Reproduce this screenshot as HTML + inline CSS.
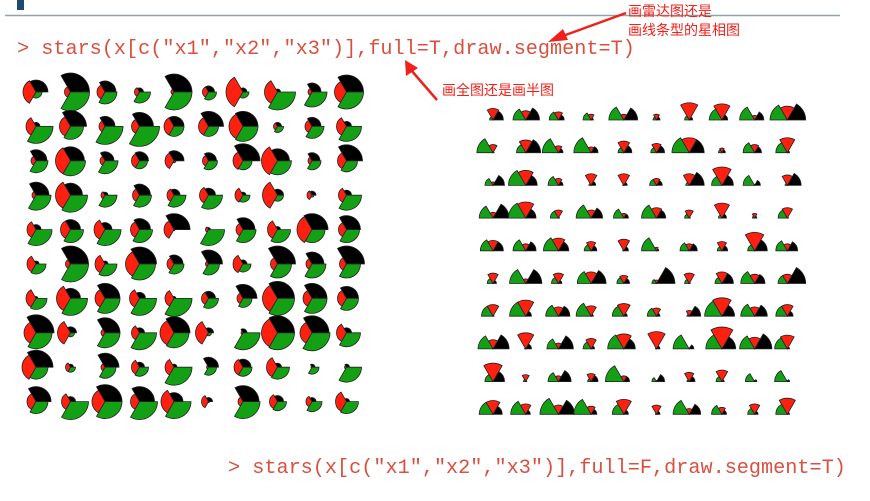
<!DOCTYPE html>
<html><head><meta charset="utf-8"><style>
html,body{margin:0;padding:0;background:#fff;width:870px;height:501px;overflow:hidden}
svg{display:block}
.cmd{font-family:"Liberation Mono",monospace;font-size:20.2px;fill:#d9503f}
.ann{font-family:"Liberation Sans","Noto Sans CJK SC",sans-serif;font-size:14px;fill:#f0201a}
</style></head><body>
<svg id="svg" width="870" height="501">
<rect x="17" y="0" width="7" height="10" fill="#1e4a6e"/>
<line x1="5" y1="15.5" x2="840" y2="15.5" stroke="#8fa3a8" stroke-width="1.5"/>
<text class="cmd" x="17" y="54">&gt; stars(x[c("x1","x2","x3")],full=T,draw.segment=T)</text>
<text class="cmd" x="228" y="473">&gt; stars(x[c("x1","x2","x3")],full=F,draw.segment=T)</text>
<text class="ann" x="628" y="16">画雷达图还是</text>
<text class="ann" x="628" y="35">画线条型的星相图</text>
<text class="ann" x="442" y="95">画全图还是画半图</text>
<g><line x1="626" y1="13" x2="560" y2="37" stroke="#f0201a" stroke-width="2.5"/><polygon points="548,42 563,29 568,40" fill="#f0201a"/></g>
<g><line x1="437" y1="100" x2="411" y2="70" stroke="#f0201a" stroke-width="2.5"/><polygon points="405,60 406,76 418,68" fill="#f0201a"/></g>
<g id="full"></g>
<g id="half"></g>
</svg>
<script>
// Full segment plot: radii values per cell, row-wise, for x1 (black), x2 (red), x3 (green)
const fullX1 = [12,19,11,4,18,6,4,3,9,17, 4,16,10,14,10,15,15,4,9,5, 11,14,9,9,10,8,17,12,8,16, 13,12,3,11,6,7,3,6,4,5, 5,10,7,11,16,2,12,3,16,14, 3,18,3,17,9,14,4,18,12,18, 2,10,15,6,2,7,14,17,15,12, 18,6,15,5,16,5,4,17,17,5, 17,3,14,5,3,10,8,4,3,3, 15,5,17,15,9,4,16,6,4,3];
const fullX2 = [13,6,8,5,3,6,17,13,4,12, 10,11,6,8,10,10,14,4,7,10, 5,15,5,8,9,6,10,16,4,9, 4,15,4,7,7,9,8,15,5,8, 9,10,11,9,10,3,7,10,15,8, 9,5,10,14,7,3,10,7,6,7, 10,14,10,10,9,7,6,15,9,9, 12,13,4,8,14,13,2,16,12,10, 14,5,4,8,9,2,9,11,1,2, 9,9,13,9,13,7,5,8,6,11];
const fullX3 = [6,19,12,11,18,8,6,18,15,17, 17,13,18,20,10,10,15,6,12,15, 12,15,13,8,2,9,9,14,9,11, 15,17,12,12,12,14,7,6,2,15, 16,13,16,13,1,16,13,13,13,13, 10,18,12,16,10,11,8,14,14,14, 11,17,15,17,18,10,9,17,15,12, 16,4,15,17,15,3,17,17,18,14, 12,5,11,9,18,8,9,12,7,15, 12,18,17,18,17,1,17,9,10,12];
// Half segment plot
const halfX1 = [9,12,5,2,12,3,3,5,8,16, 1,13,4,6,7,7,13,3,6,2, 10,10,4,4,3,5,13,10,5,12, 14,9,1,10,4,8,1,4,2,1, 9,9,9,5,4,2,7,5,11,9, 3,14,3,13,5,16,1,10,9,16, 1,5,10,2,3,3,10,11,11,5, 14,5,13,3,10,3,4,12,15,2, 10,1,11,6,5,7,5,2,2,2, 8,4,14,5,4,3,10,4,3,2];
const halfX2 = [10,8,7,5,5,5,15,14,4,12, 7,11,6,5,10,8,13,4,7,13, 3,13,6,10,10,6,10,16,1,9, 5,14,7,7,4,9,7,13,4,9, 9,6,11,8,10,3,6,8,16,6, 9,4,9,10,7,3,9,10,8,8, 10,14,8,9,11,7,5,16,8,10, 8,14,5,9,13,15,1,19,10,12, 16,6,5,7,5,1,8,10,1,1, 12,9,8,7,13,8,5,6,9,14];
const halfX3 = [3,11,8,7,13,3,4,11,13,15, 14,8,14,15,5,5,15,3,10,10, 7,15,9,2,1,6,3,9,10,2, 12,15,7,13,9,13,4,3,2,8, 11,11,13,6,1,13,8,4,6,10, 5,14,6,12,6,4,4,6,12,8, 10,14,11,13,10,8,2,15,12,10, 13,1,10,7,14,1,14,14,13,11, 7,2,9,3,16,4,2,5,8,11, 12,13,16,15,10,1,14,9,6,10];

const NS='http://www.w3.org/2000/svg';
const COLORS=['#000000','#ff2010','#14a014'];
function radFull(v){return v*1.0;}
function radHalf(v){return v*1.15;}
function fullX(i){return 36+i*34.5;}
function fullY(j){return 92+j*34.4;}
function halfX(i){return 493+i*32.7;}
function halfY(j){return 120+j*32.7;}
function seg(cx,cy,r,a0,a1){
  const t0=a0*Math.PI/180,t1=a1*Math.PI/180;
  const x0=cx+r*Math.cos(t0),y0=cy-r*Math.sin(t0),x1=cx+r*Math.cos(t1),y1=cy-r*Math.sin(t1);
  return `M${cx},${cy}L${x0.toFixed(2)},${y0.toFixed(2)}A${r},${r} 0 0 0 ${x1.toFixed(2)},${y1.toFixed(2)}Z`;
}
function draw(gid,A,B,C,span,fx,fy,rf,nm){
  const g=document.getElementById(gid);
  for(let n=0;n<A.length;n++){
    const i=n%10,j=Math.floor(n/10);
    const cx=fx(i),cy=fy(j);
    const cell=document.createElementNS(NS,'g');
    
    
    [A[n],B[n],C[n]].forEach((v,k)=>{
      const p=document.createElementNS(NS,'path');
      p.setAttribute('d',seg(cx,cy,rf(v),k*span,(k+1)*span));
      p.setAttribute('fill',COLORS[k]);
      p.setAttribute('stroke','#222');
      p.setAttribute('stroke-width','0.8');
      
      
      cell.appendChild(p);
    });
    g.appendChild(cell);
  }
}
draw('full',fullX1,fullX2,fullX3,120,fullX,fullY,radFull,'full');
draw('half',halfX1,halfX2,halfX3,60,halfX,halfY,radHalf,'half');
</script>
</body></html>
